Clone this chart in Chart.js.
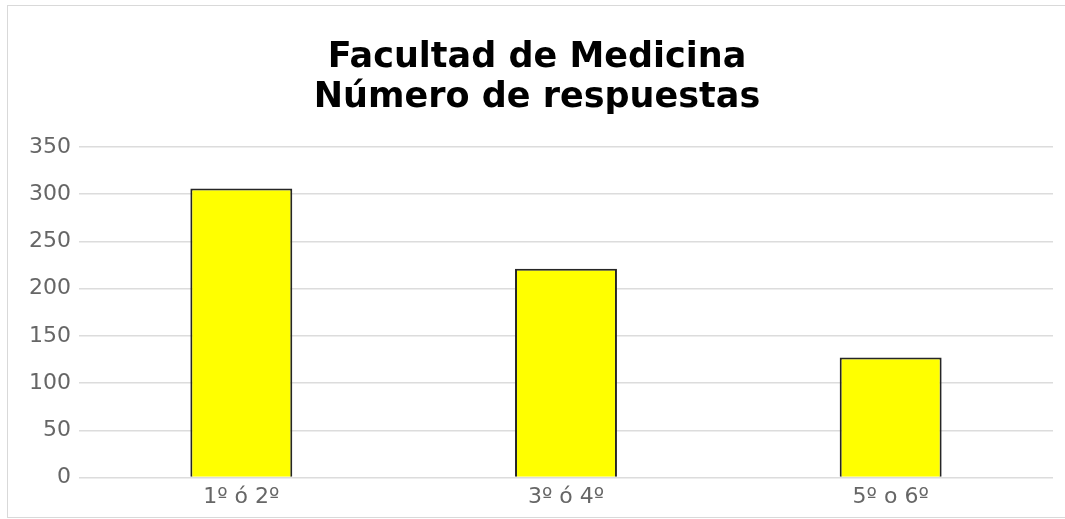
<!DOCTYPE html>
<html lang="es">
<head>
    <meta charset="UTF-8">
    <title>Facultad de Medicina</title>
    <style>
        body {
            margin: 0;
            padding: 0;
            background: #ffffff;
        }
        #frame {
            position: absolute;
            left: 7px;
            top: 5px;
            width: 1070px;
            height: 511px;
            border: 1px solid #d9d9d9;
            pointer-events: none;
        }
        #chart {
            position: absolute;
            left: 0;
            top: 0;
        }
    </style>
    <script src="https://cdn.jsdelivr.net/npm/chart.js@4/dist/chart.umd.min.js"></script>
</head>
<body>
<canvas id="chart" width="1065" height="519"></canvas>
<div id="frame"></div>

<script>
    // datos
    const cursos = ['1º ó 2º', '3º ó 4º', '5º o 6º'];
    const respuestas = [306, 221, 127];
    const tituloLineas = ['Facultad de Medicina', 'Número de respuestas'];

    const config = {
        type: 'bar',
        data: {
            labels: cursos,
            datasets: [{
                label: 'Respuestas',
                data: respuestas,
                backgroundColor: '#ffff00',
                borderColor: '#262626',
                borderWidth: 2,
                categoryPercentage: 1,
                barPercentage: 0.314
            }]
        },
        options: {
            responsive: false,
            animation: false,
            layout: {
                padding: { left: 21, right: 12, top: 0, bottom: 3 }
            },
            plugins: {
                legend: { display: false },
                tooltip: { enabled: false },
                title: {
                    display: true,
                    text: tituloLineas,
                    color: '#000000',
                    font: { family: 'DejaVu Sans', size: 35, weight: 'bold', lineHeight: 1.14 },
                    padding: { top: 38, bottom: 29 }
                }
            },
            scales: {
                x: {
                    grid: { display: false, drawTicks: false },
                    border: { display: false },
                    ticks: {
                        color: '#666666',
                        font: { family: 'DejaVu Sans', size: 22 },
                        padding: 6
                    }
                },
                y: {
                    min: 0,
                    max: 350,
                    grid: { color: '#dcdcdc', lineWidth: 1.5, drawTicks: false },
                    border: { display: false },
                    ticks: {
                        stepSize: 50,
                        color: '#666666',
                        font: { family: 'DejaVu Sans', size: 22 },
                        padding: 8
                    }
                }
            }
        }
    };

    new Chart(document.getElementById('chart'), config);
</script>
</body>
</html>
